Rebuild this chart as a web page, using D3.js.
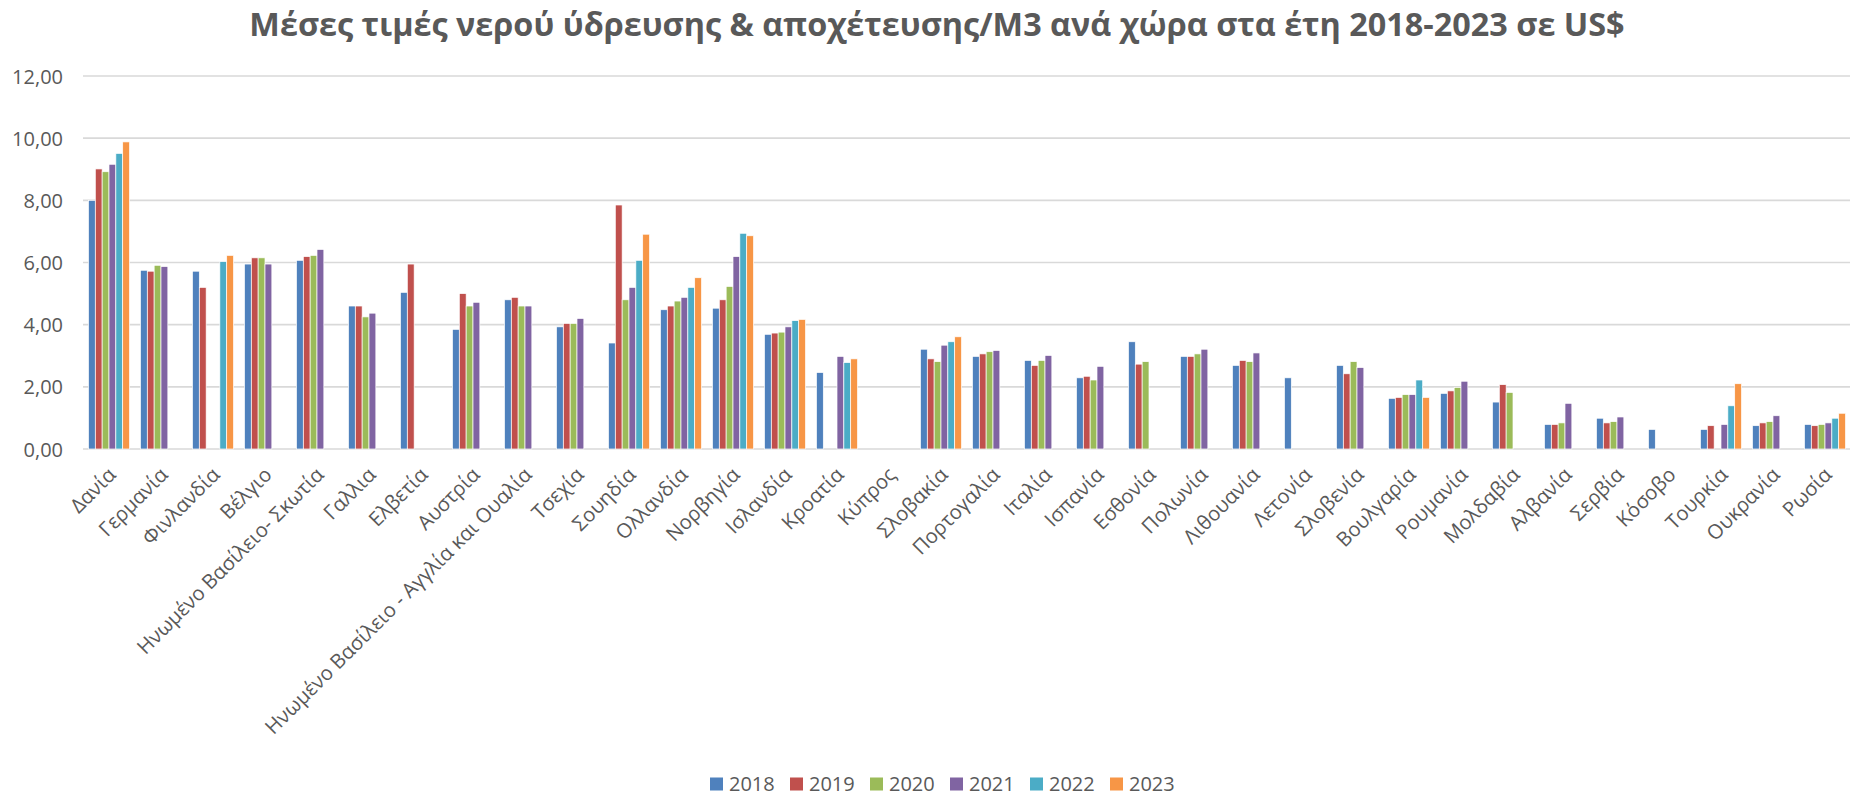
<!DOCTYPE html>
<html>
<head>
<meta charset="utf-8">
<script src="https://cdn.jsdelivr.net/npm/d3@7"></script>
<style>
  html, body { margin: 0; padding: 0; background: #fff; }
  svg { display: block; font-family: "Open Sans", "Noto Sans", sans-serif; }
</style>
</head>
<body>
<svg id="chart" width="1850" height="797"></svg>
<script>
const title = "Μέσες τιμές νερού ύδρευσης & αποχέτευσης/Μ3 ανά χώρα στα έτη 2018-2023 σε US$";

const categories = [
  "Δανία", "Γερμανία", "Φινλανδία", "Βέλγιο", "Ηνωμένο Βασίλειο- Σκωτία", "Γαλλια", "Ελβετία",
  "Αυστρία", "Ηνωμένο Βασίλειο - Αγγλία και Ουαλία", "Τσεχία", "Σουηδία", "Ολλανδία", "Νορβηγία",
  "Ισλανδία", "Κροατία", "Κύπρος", "Σλοβακία", "Πορτογαλία", "Ιταλία", "Ισπανία", "Εσθονία",
  "Πολωνία", "Λιθουανία", "Λετονία", "Σλοβενία", "Βουλγαρία", "Ρουμανία", "Μολδαβία", "Αλβανία",
  "Σερβία", "Κόσοβο", "Τουρκία", "Ουκρανία", "Ρωσία"
];

const years = ["2018", "2019", "2020", "2021", "2022", "2023"];

const v2018 = [8.00, 5.75, 5.72, 5.95, 6.07, 4.60, 5.04, 3.85, 4.80, 3.93, 3.41, 4.48, 4.53, 3.69, 2.46, null, 3.21, 2.98, 2.85, 2.29, 3.45, 2.98, 2.69, 2.29, 2.69, 1.63, 1.79, 1.51, 0.79, 0.99, 0.63, 0.63, 0.75, 0.79];
const v2019 = [9.01, 5.72, 5.20, 6.15, 6.19, 4.60, 5.95, 5.00, 4.88, 4.04, 7.85, 4.60, 4.80, 3.73, null, null, 2.90, 3.06, 2.69, 2.34, 2.73, 2.98, 2.85, null, 2.42, 1.66, 1.87, 2.07, 0.79, 0.84, null, 0.75, 0.84, 0.75];
const v2020 = [8.92, 5.91, null, 6.15, 6.23, 4.25, null, 4.60, 4.60, 4.04, 4.80, 4.76, 5.23, 3.76, null, null, 2.81, 3.13, 2.85, 2.22, 2.81, 3.06, 2.81, null, 2.81, 1.75, 1.98, 1.82, 0.84, 0.88, null, null, 0.88, 0.79];
const v2021 = [9.16, 5.87, null, 5.95, 6.42, 4.37, null, 4.72, 4.60, 4.20, 5.20, 4.88, 6.19, 3.93, 2.98, null, 3.34, 3.17, 3.01, 2.66, null, 3.21, 3.09, null, 2.62, 1.75, 2.18, null, 1.47, 1.03, null, 0.79, 1.07, 0.84];
const v2022 = [9.51, null, 6.03, null, null, null, null, null, null, null, 6.07, 5.20, 6.94, 4.13, 2.78, null, 3.45, null, null, null, null, null, null, null, null, 2.22, null, null, null, null, null, 1.39, null, 0.99];
const v2023 = [9.88, null, 6.23, null, null, null, null, null, null, null, 6.91, 5.51, 6.86, 4.17, 2.90, null, 3.61, null, null, null, null, null, null, null, null, 1.66, null, null, null, null, null, 2.10, null, 1.15];

const seriesValues = [v2018, v2019, v2020, v2021, v2022, v2023];
const colors = ["#4F81BD", "#C0504D", "#9BBB59", "#8064A2", "#4BACC6", "#F79646"];
const yTicks = [0, 2, 4, 6, 8, 10, 12];

const svg = d3.select("#chart");
const plot = { left: 83, right: 1851, top: 76, bottom: 449 };
const textColor = "#595959";

const x0 = d3.scaleBand()
  .domain(categories)
  .range([plot.left, plot.right])
  .paddingInner(0.21)
  .paddingOuter(0.105);

const x1 = d3.scaleBand()
  .domain(years)
  .range([0, x0.bandwidth()]);

const y = d3.scaleLinear().domain([0, 12]).range([plot.bottom, plot.top]);

const fmt = v => d3.format(".2f")(v).replace(".", ",");

// title
svg.append("text")
  .attr("x", 937)
  .attr("y", 36)
  .attr("text-anchor", "middle")
  .attr("font-size", 32.4)
  .attr("font-weight", "bold")
  .attr("fill", textColor)
  .text(title);

// grid lines
svg.append("g")
  .selectAll("line")
  .data(yTicks)
  .join("line")
  .attr("x1", plot.left)
  .attr("x2", plot.right)
  .attr("y1", d => y(d))
  .attr("y2", d => y(d))
  .attr("stroke", "#D9D9D9")
  .attr("stroke-width", 1.6);

// y axis labels
const yAxis = d3.axisLeft(y).tickValues(yTicks).tickFormat(fmt).tickSize(0).tickPadding(0);
const yg = svg.append("g")
  .attr("transform", `translate(${plot.left - 20},0)`)
  .call(yAxis);
yg.select(".domain").remove();
yg.selectAll("text")
  .attr("font-size", 20)
  .attr("font-family", "'Open Sans', 'Noto Sans', sans-serif")
  .attr("fill", textColor)
  .attr("dy", "0.35em");

// bars
const flat = [];
seriesValues.forEach((arr, si) => {
  arr.forEach((v, ci) => {
    if (v !== null && v !== undefined) {
      flat.push({ cat: categories[ci], year: years[si], value: v, color: colors[si] });
    }
  });
});

svg.append("g")
  .selectAll("rect")
  .data(flat)
  .join("rect")
  .attr("x", d => x0(d.cat) + x1(d.year))
  .attr("y", d => y(d.value))
  .attr("width", x1.bandwidth())
  .attr("height", d => y(0) - y(d.value))
  .attr("fill", d => d.color)
  .attr("stroke", "#ffffff")
  .attr("stroke-width", 0.7);

// x axis labels
const xAxis = d3.axisBottom(x0).tickSize(0).tickPadding(0);
const xg = svg.append("g")
  .attr("transform", `translate(0,${plot.bottom})`)
  .call(xAxis);
xg.select(".domain").remove();
xg.selectAll(".tick text")
  .attr("font-size", 20.2)
  .attr("font-family", "'Open Sans', 'Noto Sans', sans-serif")
  .attr("fill", textColor)
  .attr("text-anchor", "end")
  .attr("dy", null)
  .attr("y", 0)
  .attr("transform", "translate(8,27) rotate(-45)");

// legend
const legend = svg.append("g");
const legendX = d3.scalePoint().domain(years).range([710, 1110]);
const li = legend.selectAll("g")
  .data(years.map((yr, i) => ({ yr, color: colors[i] })))
  .join("g")
  .attr("transform", d => `translate(${legendX(d.yr)},784)`);
li.append("rect")
  .attr("x", 0).attr("y", -6.5)
  .attr("width", 13).attr("height", 13)
  .attr("fill", d => d.color);
li.append("text")
  .attr("x", 19)
  .attr("y", 0)
  .attr("dy", "0.35em")
  .attr("font-size", 20)
  .attr("fill", textColor)
  .text(d => d.yr);
</script>
</body>
</html>
